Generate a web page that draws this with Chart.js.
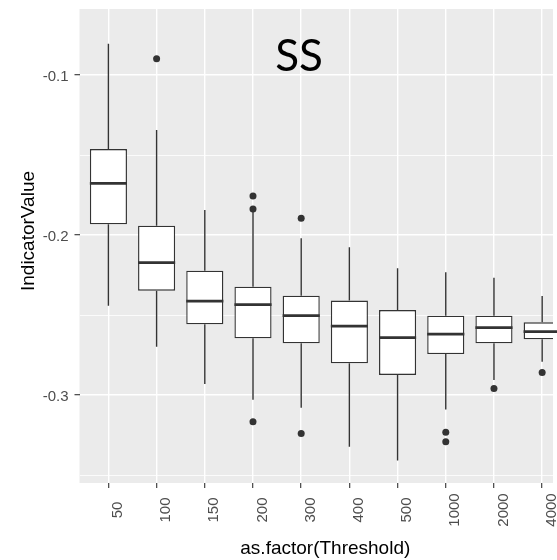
<!DOCTYPE html>
<html>
<head>
<meta charset="utf-8">
<script src="https://cdn.jsdelivr.net/npm/chart.js@4/dist/chart.umd.min.js"></script>
<style>
  html, body { margin: 0; padding: 0; background: #ffffff; }
  #wrap { width: 557px; height: 560px; }
</style>
</head>
<body>
<div id="wrap"><canvas id="c" width="557" height="560"></canvas></div>
<script>
// ---- data ----
const categories = ['50', '100', '150', '200', '300', '400', '500', '1000', '2000', '4000'];
const whiskerLow  = [-0.2442, -0.2698, -0.2931, -0.3030, -0.3079, -0.3323, -0.3410, -0.3090, -0.2906, -0.2792];
const q1          = [-0.1933, -0.2348, -0.2558, -0.2646, -0.2677, -0.2802, -0.2875, -0.2744, -0.2677, -0.2652];
const median      = [-0.1677, -0.2173, -0.2413, -0.2435, -0.2504, -0.2569, -0.2642, -0.2619, -0.2579, -0.2604];
const q3          = [-0.1463, -0.1942, -0.2223, -0.2323, -0.2379, -0.2410, -0.2469, -0.2504, -0.2504, -0.2546];
const whiskerHigh = [-0.0804, -0.1344, -0.1844, -0.1844, -0.2021, -0.2077, -0.2208, -0.2233, -0.2267, -0.2381];
const outlierCategory = ['100', '200', '200', '200', '300', '300', '1000', '1000', '2000', '4000'];
const outlierValue    = [-0.0898, -0.1756, -0.1838, -0.3167, -0.1896, -0.3240, -0.3233, -0.3292, -0.2960, -0.2860];
const yTickValues = [-0.35, -0.3, -0.25, -0.2, -0.15, -0.1];
const yMajorLabels = {'-0.3': '-0.3', '-0.2': '-0.2', '-0.1': '-0.1'};
const xTitle = 'as.factor(Threshold)';
const yTitle = 'IndicatorValue';
const panelLabel = 'SS';

// ---- chart ----
const INK = '#333333';
const catIndex = c => categories.indexOf(c) + 1;

const boxData = categories.map((c, i) => ({ x: i + 1, y: [q1[i], q3[i]] }));
const outlierData = outlierCategory.map((c, i) => ({ x: catIndex(c), y: outlierValue[i] }));

const isMajor = v => Math.abs(v * 10 - Math.round(v * 10)) < 1e-6;

const ggPlugin = {
  id: 'gg',
  beforeDraw(chart) {
    const { ctx, chartArea: a } = chart;
    ctx.save();
    ctx.fillStyle = '#EBEBEB';
    ctx.fillRect(a.left, a.top, a.right - a.left, a.bottom - a.top);
    ctx.restore();
  },
  beforeDatasetsDraw(chart) {
    const { ctx } = chart;
    const xs = chart.scales.x, ys = chart.scales.y;
    ctx.save();
    ctx.strokeStyle = INK;
    ctx.lineWidth = 1.4;
    categories.forEach((c, i) => {
      const px = xs.getPixelForValue(i + 1);
      ctx.beginPath();
      ctx.moveTo(px, ys.getPixelForValue(whiskerHigh[i]));
      ctx.lineTo(px, ys.getPixelForValue(q3[i]));
      ctx.moveTo(px, ys.getPixelForValue(q1[i]));
      ctx.lineTo(px, ys.getPixelForValue(whiskerLow[i]));
      ctx.stroke();
    });
    ctx.restore();
  },
  afterDatasetsDraw(chart) {
    const { ctx } = chart;
    const ys = chart.scales.y;
    const meta = chart.getDatasetMeta(0);
    ctx.save();
    ctx.strokeStyle = INK;
    ctx.lineWidth = 2.8;
    meta.data.forEach((bar, i) => {
      const half = bar.width / 2;
      const py = ys.getPixelForValue(median[i]);
      ctx.beginPath();
      ctx.moveTo(bar.x - half, py);
      ctx.lineTo(bar.x + half, py);
      ctx.stroke();
    });
    ctx.restore();
  },
  afterDraw(chart) {
    const { ctx, chartArea: a } = chart;
    const xs = chart.scales.x;
    ctx.save();
    // x tick labels (rotated, centred)
    ctx.fillStyle = '#4D4D4D';
    ctx.font = '15px "Liberation Sans", Arial, sans-serif';
    ctx.textAlign = 'center';
    ctx.textBaseline = 'middle';
    categories.forEach((c, i) => {
      const px = xs.getPixelForValue(i + 1);
      ctx.save();
      ctx.translate(px + 9.5, a.bottom + 27);
      ctx.rotate(-Math.PI / 2);
      ctx.fillText(c, 0, 0);
      ctx.restore();
    });
    // axis titles
    ctx.fillStyle = '#000000';
    ctx.font = '19px "Liberation Sans", Arial, sans-serif';
    ctx.fillText(xTitle, (a.left + xs.getPixelForValue(10.6)) / 2, 549);
    ctx.save();
    ctx.translate(29, 231);
    ctx.rotate(-Math.PI / 2);
    ctx.fillText(yTitle, 0, 0);
    ctx.restore();
    // panel label
    ctx.font = '44px Lato, "Open Sans", sans-serif';
    ctx.textBaseline = 'alphabetic';
    ctx.fillText(panelLabel, 299, 71);
    ctx.restore();
  }
};

new Chart(document.getElementById('c'), {
  type: 'bar',
  data: {
    datasets: [
      {
        type: 'bar',
        data: boxData,
        backgroundColor: '#FFFFFF',
        borderColor: INK,
        borderWidth: 1.4,
        borderSkipped: false,
        barPercentage: 0.77,
        categoryPercentage: 1.0,
        order: 2
      },
      {
        type: 'scatter',
        data: outlierData,
        backgroundColor: INK,
        borderColor: INK,
        pointRadius: 3.5,
        pointBorderWidth: 0,
        order: 1
      }
    ]
  },
  options: {
    responsive: false,
    animation: false,
    devicePixelRatio: 1,
    layout: { padding: { top: 9, left: 0, right: 0, bottom: 0 } },
    plugins: { legend: { display: false }, tooltip: { enabled: false } },
    scales: {
      x: {
        type: 'linear',
        min: 0.4,
        max: 10.225,
        offset: false,
        afterBuildTicks: s => { s.ticks = categories.map((c, i) => ({ value: i + 1 })); },
        afterFit: s => { s.height = 77; s.paddingLeft = 0; s.paddingRight = 0; },
        border: { display: false },
        grid: {
          offset: false,
          color: '#FFFFFF',
          lineWidth: 1.4,
          drawTicks: true,
          tickLength: 5,
          tickColor: INK,
          tickWidth: 1.1
        },
        ticks: { display: false }
      },
      y: {
        type: 'linear',
        min: -0.355,
        max: -0.05875,
        afterBuildTicks: s => { s.ticks = yTickValues.map(v => ({ value: v })); },
        afterFit: s => { s.width = 79.5; s.paddingTop = 0; s.paddingBottom = 0; },
        border: { display: false },
        grid: {
          offset: false,
          color: '#FFFFFF',
          lineWidth: ctx => (ctx.tick && isMajor(ctx.tick.value)) ? 1.4 : 0.8,
          drawTicks: true,
          tickLength: 5,
          tickColor: ctx => (ctx.tick && isMajor(ctx.tick.value)) ? INK : 'rgba(0,0,0,0)',
          tickWidth: 1.1
        },
        ticks: {
          color: '#4D4D4D',
          font: { family: '"Liberation Sans", Arial, sans-serif', size: 15 },
          padding: 6,
          labelOffset: 2,
          autoSkip: false,
          callback: v => yMajorLabels[String(Math.round(v * 100) / 100)] || ''
        }
      }
    }
  },
  plugins: [ggPlugin]
});
</script>
</body>
</html>
